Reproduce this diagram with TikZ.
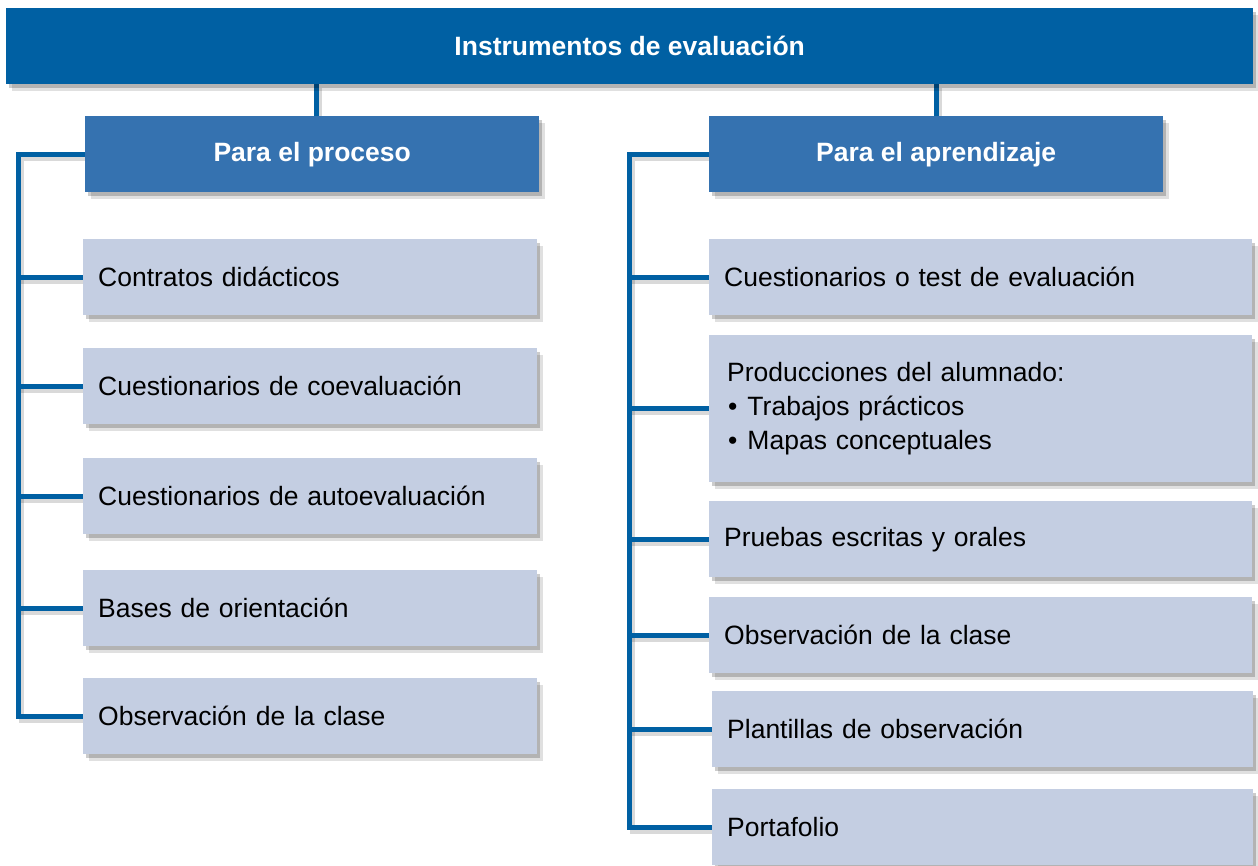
\documentclass[tikz,border=0pt]{standalone}
\usepackage{fontspec}
\setmainfont{Liberation Sans}
\usepackage{xcolor}
\usetikzlibrary{shadows,backgrounds,calc}

\definecolor{barblue}{HTML}{0060A3}
\definecolor{headblue}{HTML}{3572B0}
\definecolor{itemfill}{HTML}{C4CEE2}

\begin{document}
\begin{tikzpicture}[x=1pt, y=-1pt,
    boxshadow/.style={drop shadow={shadow xshift=3pt, shadow yshift=-4pt, fill=black, opacity=0.2},
                      drop shadow={shadow xshift=6pt, shadow yshift=-7pt, fill=black, opacity=0.12}},
    topbar/.style={fill=barblue, text=white, font=\fontsize{26.5}{32}\selectfont\bfseries,
                   anchor=north west, minimum width=1247pt, minimum height=76pt, inner sep=0pt, boxshadow},
    headbox/.style={fill=headblue, text=white, font=\fontsize{26.5}{32}\selectfont\bfseries,
                    anchor=north west, minimum width=454pt, minimum height=76pt, inner sep=0pt, boxshadow},
    itembox/.style={fill=itemfill, font=\fontsize{26.5}{34}\selectfont, align=left,
                    anchor=north west, text width=424pt, inner xsep=15pt, inner ysep=0pt,
                    minimum height=76pt, boxshadow},
    wideitem/.style={itembox, text width=513pt},
    link/.style={draw=barblue, line width=5pt,
                 preaction={draw=black, opacity=0.15, line width=5pt, transform canvas={shift={(3pt,-4pt)}}}}
]
    \useasboundingbox (0,0) rectangle (1258,866);

    % Top bar
    \node[topbar] (top) at (6,8) {Instrumentos de evaluación};

    % Headers
    \node[headbox] (proc) at (85,116) {Para el proceso};
    \node[headbox] (learn) at (709,116) {Para el aprendizaje};

    % Left column
    \node[itembox] (p1) at (83,239) {Contratos didácticos};
    \node[itembox] (p2) at (83,348) {Cuestionarios de coevaluación};
    \node[itembox] (p3) at (83,458) {Cuestionarios de autoevaluación};
    \node[itembox] (p4) at (83,570) {Bases de orientación};
    \node[itembox] (p5) at (83,678) {Observación de la clase};

    % Right column
    \node[wideitem] (a1) at (709,239) {Cuestionarios o test de evaluación};
    \node[wideitem, minimum height=147pt] (a2) at (709,335)
        {\hspace*{3pt}Producciones del alumnado:\\
         \hspace*{4pt}\textbullet\hspace{10pt}Trabajos prácticos\\
         \hspace*{4pt}\textbullet\hspace{10pt}Mapas conceptuales};
    \node[wideitem] (a3) at (709,501) {Pruebas escritas y orales};
    \node[wideitem] (a4) at (709,597) {Observación de la clase};
    \node[wideitem, text width=511pt] (a5) at (712,691) {Plantillas de observación};
    \node[wideitem, text width=511pt] (a6) at (712,789) {Portafolio};

    % Connectors
    \begin{pgfonlayer}{background}
        \fill[white] (0,0) rectangle (1258,866);

        \draw[link] ($(proc.north)+(4,0)$) -- ($(proc.north |- top.south)+(4,0)$);
        \draw[link] (learn.north) -- (learn.north |- top.south);

        \draw[link] (proc.west) -- ++(-67,0) coordinate (lbar) |- (p5.west);
        \foreach \i in {1,...,4}
            \draw[link] (p\i.west) -- (p\i.west -| lbar);

        \draw[link] (learn.west) -- ++(-80,0) coordinate (rbar) |- (a6.west);
        \foreach \i in {1,...,5}
            \draw[link] (a\i.west) -- (a\i.west -| rbar);
    \end{pgfonlayer}
\end{tikzpicture}
\end{document}
